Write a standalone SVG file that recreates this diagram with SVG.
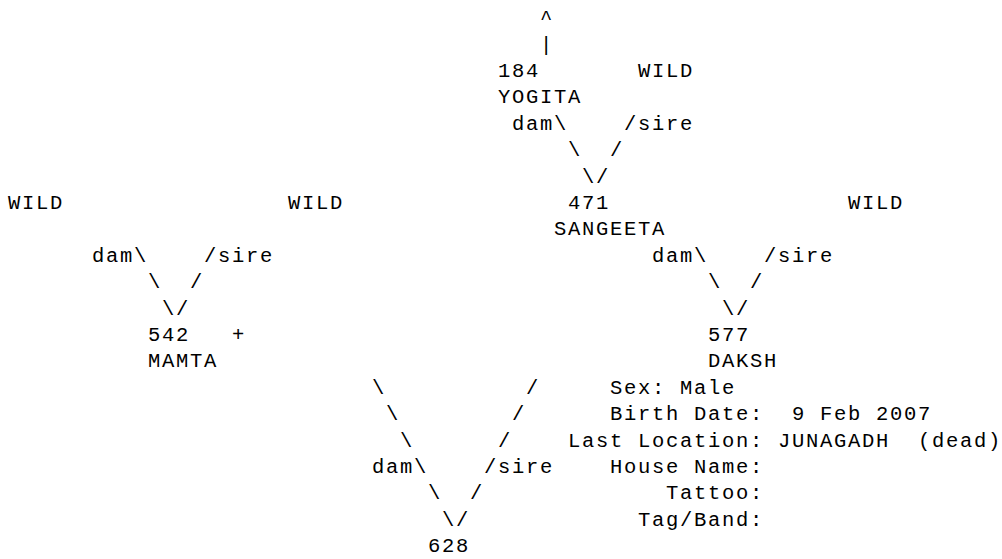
<svg xmlns="http://www.w3.org/2000/svg" width="1002" height="559" viewBox="0 0 1002 559">
<style>
text { font-family: "Liberation Mono", "Courier New", monospace; font-size: 20.5px; letter-spacing: 1.7px; fill: #000; white-space: pre; }
</style>
<rect width="1002" height="559" fill="#fff"/>
<g id="connectors">
  <text x="540" y="24.2">^</text>
  <text x="540" y="50.6">|</text>
  <text x="512" y="129.8">dam\</text><text x="624" y="129.8">/sire</text>
  <text x="568" y="156.2">\</text><text x="610" y="156.2">/</text>
  <text x="582" y="182.6">\/</text>
  <text x="92" y="261.8">dam\</text><text x="204" y="261.8">/sire</text>
  <text x="148" y="288.2">\</text><text x="190" y="288.2">/</text>
  <text x="162" y="314.6">\/</text>
  <text x="652" y="261.8">dam\</text><text x="764" y="261.8">/sire</text>
  <text x="708" y="288.2">\</text><text x="750" y="288.2">/</text>
  <text x="722" y="314.6">\/</text>
  <text x="372" y="393.8">\</text><text x="526" y="393.8">/</text>
  <text x="386" y="420.2">\</text><text x="512" y="420.2">/</text>
  <text x="400" y="446.6">\</text><text x="498" y="446.6">/</text>
  <text x="372" y="473">dam\</text><text x="484" y="473">/sire</text>
  <text x="428" y="499.4">\</text><text x="470" y="499.4">/</text>
  <text x="442" y="525.8">\/</text>
</g>
<g id="n184"><text x="498" y="77">184</text><text x="498" y="103.4">YOGITA</text></g>
<g id="wild-top"><text x="638" y="77">WILD</text></g>
<g id="wild-1"><text x="8" y="209">WILD</text></g>
<g id="wild-2"><text x="288" y="209">WILD</text></g>
<g id="n471"><text x="568" y="209">471</text><text x="554" y="235.4">SANGEETA</text></g>
<g id="wild-3"><text x="848" y="209">WILD</text></g>
<g id="n542"><text x="148" y="341">542</text><text x="232" y="341">+</text><text x="148" y="367.4">MAMTA</text></g>
<g id="n577"><text x="708" y="341">577</text><text x="708" y="367.4">DAKSH</text>
  <text x="610" y="393.8">Sex: Male</text>
  <text x="610" y="420.2">Birth Date:  9 Feb 2007</text>
  <text x="568" y="446.6">Last Location: JUNAGADH  (dead)</text>
  <text x="610" y="473">House Name:</text>
  <text x="666" y="499.4">Tattoo:</text>
  <text x="638" y="525.8">Tag/Band:</text>
</g>
<g id="n628"><text x="428" y="552.2">628</text></g>
</svg>
